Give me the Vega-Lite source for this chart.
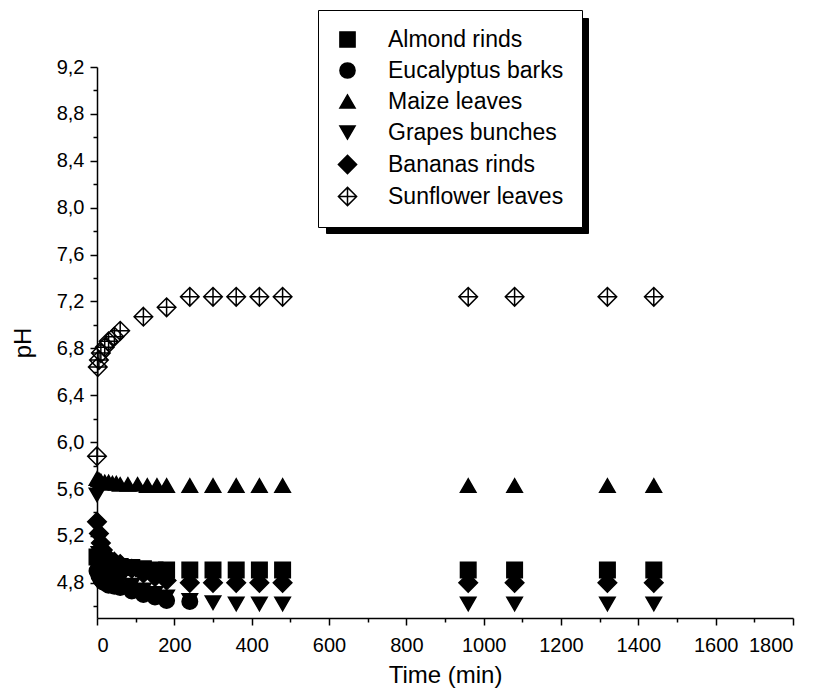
{
  "$schema": "https://vega.github.io/schema/vega-lite/v6.json",
  "width": 696,
  "height": 551,
  "autosize": {"type": "none"},
  "padding": {"left": 97, "top": 67, "right": 26, "bottom": 82},
  "background": "white",
  "config": {
    "locale": {"number": {"decimal": ",", "thousands": ".", "grouping": [3], "currency": ["", "€"]}},
    "font": "Liberation Sans",
    "view": {"stroke": null},
    "axis": {
      "grid": false,
      "domainColor": "black",
      "domainWidth": 1.5,
      "tickColor": "black",
      "tickWidth": 1.5,
      "labelColor": "black",
      "titleColor": "black",
      "labelFont": "Liberation Sans",
      "titleFont": "Liberation Sans",
      "labelFontSize": 20,
      "titleFontSize": 24,
      "titleFontWeight": "normal"
    }
  },
  "datasets": {
    "obs": [
      {"series": "Almond rinds", "t": 0, "pH": 5.02},
      {"series": "Almond rinds", "t": 5, "pH": 5.0},
      {"series": "Almond rinds", "t": 10, "pH": 4.98},
      {"series": "Almond rinds", "t": 15, "pH": 4.97},
      {"series": "Almond rinds", "t": 20, "pH": 4.96},
      {"series": "Almond rinds", "t": 30, "pH": 4.95},
      {"series": "Almond rinds", "t": 45, "pH": 4.95},
      {"series": "Almond rinds", "t": 60, "pH": 4.94},
      {"series": "Almond rinds", "t": 90, "pH": 4.93},
      {"series": "Almond rinds", "t": 120, "pH": 4.92},
      {"series": "Almond rinds", "t": 150, "pH": 4.91},
      {"series": "Almond rinds", "t": 180, "pH": 4.91},
      {"series": "Almond rinds", "t": 240, "pH": 4.91},
      {"series": "Almond rinds", "t": 300, "pH": 4.91},
      {"series": "Almond rinds", "t": 360, "pH": 4.91},
      {"series": "Almond rinds", "t": 420, "pH": 4.91},
      {"series": "Almond rinds", "t": 480, "pH": 4.91},
      {"series": "Almond rinds", "t": 960, "pH": 4.91},
      {"series": "Almond rinds", "t": 1080, "pH": 4.91},
      {"series": "Almond rinds", "t": 1320, "pH": 4.91},
      {"series": "Almond rinds", "t": 1440, "pH": 4.91},
      {"series": "Eucalyptus barks", "t": 0, "pH": 4.9},
      {"series": "Eucalyptus barks", "t": 5, "pH": 4.86},
      {"series": "Eucalyptus barks", "t": 10, "pH": 4.83},
      {"series": "Eucalyptus barks", "t": 15, "pH": 4.81},
      {"series": "Eucalyptus barks", "t": 20, "pH": 4.8},
      {"series": "Eucalyptus barks", "t": 30, "pH": 4.78},
      {"series": "Eucalyptus barks", "t": 45, "pH": 4.77},
      {"series": "Eucalyptus barks", "t": 60, "pH": 4.76},
      {"series": "Eucalyptus barks", "t": 90, "pH": 4.73},
      {"series": "Eucalyptus barks", "t": 120, "pH": 4.7},
      {"series": "Eucalyptus barks", "t": 150, "pH": 4.68},
      {"series": "Eucalyptus barks", "t": 180, "pH": 4.65},
      {"series": "Eucalyptus barks", "t": 240, "pH": 4.64},
      {"series": "Maize leaves", "t": 0, "pH": 5.69},
      {"series": "Maize leaves", "t": 5, "pH": 5.68},
      {"series": "Maize leaves", "t": 10, "pH": 5.67},
      {"series": "Maize leaves", "t": 20, "pH": 5.66},
      {"series": "Maize leaves", "t": 30, "pH": 5.66},
      {"series": "Maize leaves", "t": 40, "pH": 5.65},
      {"series": "Maize leaves", "t": 50, "pH": 5.65},
      {"series": "Maize leaves", "t": 60, "pH": 5.64},
      {"series": "Maize leaves", "t": 80, "pH": 5.64},
      {"series": "Maize leaves", "t": 105, "pH": 5.64},
      {"series": "Maize leaves", "t": 130, "pH": 5.63},
      {"series": "Maize leaves", "t": 155, "pH": 5.63},
      {"series": "Maize leaves", "t": 180, "pH": 5.63},
      {"series": "Maize leaves", "t": 240, "pH": 5.63},
      {"series": "Maize leaves", "t": 300, "pH": 5.63},
      {"series": "Maize leaves", "t": 360, "pH": 5.63},
      {"series": "Maize leaves", "t": 420, "pH": 5.63},
      {"series": "Maize leaves", "t": 480, "pH": 5.63},
      {"series": "Maize leaves", "t": 960, "pH": 5.63},
      {"series": "Maize leaves", "t": 1080, "pH": 5.63},
      {"series": "Maize leaves", "t": 1320, "pH": 5.63},
      {"series": "Maize leaves", "t": 1440, "pH": 5.63},
      {"series": "Grapes bunches", "t": 0, "pH": 5.55},
      {"series": "Grapes bunches", "t": 5, "pH": 5.05},
      {"series": "Grapes bunches", "t": 10, "pH": 4.95},
      {"series": "Grapes bunches", "t": 15, "pH": 4.9},
      {"series": "Grapes bunches", "t": 20, "pH": 4.88},
      {"series": "Grapes bunches", "t": 30, "pH": 4.86},
      {"series": "Grapes bunches", "t": 45, "pH": 4.84},
      {"series": "Grapes bunches", "t": 60, "pH": 4.82},
      {"series": "Grapes bunches", "t": 90, "pH": 4.78},
      {"series": "Grapes bunches", "t": 120, "pH": 4.74},
      {"series": "Grapes bunches", "t": 150, "pH": 4.71},
      {"series": "Grapes bunches", "t": 180, "pH": 4.68},
      {"series": "Grapes bunches", "t": 240, "pH": 4.65},
      {"series": "Grapes bunches", "t": 300, "pH": 4.63},
      {"series": "Grapes bunches", "t": 360, "pH": 4.62},
      {"series": "Grapes bunches", "t": 420, "pH": 4.62},
      {"series": "Grapes bunches", "t": 480, "pH": 4.62},
      {"series": "Grapes bunches", "t": 960, "pH": 4.62},
      {"series": "Grapes bunches", "t": 1080, "pH": 4.62},
      {"series": "Grapes bunches", "t": 1320, "pH": 4.62},
      {"series": "Grapes bunches", "t": 1440, "pH": 4.62},
      {"series": "Bananas rinds", "t": 0, "pH": 5.32},
      {"series": "Bananas rinds", "t": 5, "pH": 5.22},
      {"series": "Bananas rinds", "t": 10, "pH": 5.14},
      {"series": "Bananas rinds", "t": 15, "pH": 5.08},
      {"series": "Bananas rinds", "t": 20, "pH": 5.04},
      {"series": "Bananas rinds", "t": 30, "pH": 5.0},
      {"series": "Bananas rinds", "t": 45, "pH": 4.98},
      {"series": "Bananas rinds", "t": 60, "pH": 4.96},
      {"series": "Bananas rinds", "t": 90, "pH": 4.92},
      {"series": "Bananas rinds", "t": 120, "pH": 4.88},
      {"series": "Bananas rinds", "t": 150, "pH": 4.85},
      {"series": "Bananas rinds", "t": 180, "pH": 4.82},
      {"series": "Bananas rinds", "t": 240, "pH": 4.8},
      {"series": "Bananas rinds", "t": 300, "pH": 4.8},
      {"series": "Bananas rinds", "t": 360, "pH": 4.8},
      {"series": "Bananas rinds", "t": 420, "pH": 4.8},
      {"series": "Bananas rinds", "t": 480, "pH": 4.8},
      {"series": "Bananas rinds", "t": 960, "pH": 4.8},
      {"series": "Bananas rinds", "t": 1080, "pH": 4.8},
      {"series": "Bananas rinds", "t": 1320, "pH": 4.8},
      {"series": "Bananas rinds", "t": 1440, "pH": 4.8},
      {"series": "Sunflower leaves", "t": 0, "pH": 5.88},
      {"series": "Sunflower leaves", "t": 2, "pH": 6.64},
      {"series": "Sunflower leaves", "t": 5, "pH": 6.7},
      {"series": "Sunflower leaves", "t": 10, "pH": 6.76},
      {"series": "Sunflower leaves", "t": 20, "pH": 6.81},
      {"series": "Sunflower leaves", "t": 30, "pH": 6.86},
      {"series": "Sunflower leaves", "t": 45, "pH": 6.9},
      {"series": "Sunflower leaves", "t": 60, "pH": 6.95},
      {"series": "Sunflower leaves", "t": 120, "pH": 7.07},
      {"series": "Sunflower leaves", "t": 180, "pH": 7.15},
      {"series": "Sunflower leaves", "t": 240, "pH": 7.24},
      {"series": "Sunflower leaves", "t": 300, "pH": 7.24},
      {"series": "Sunflower leaves", "t": 360, "pH": 7.24},
      {"series": "Sunflower leaves", "t": 420, "pH": 7.24},
      {"series": "Sunflower leaves", "t": 480, "pH": 7.24},
      {"series": "Sunflower leaves", "t": 960, "pH": 7.24},
      {"series": "Sunflower leaves", "t": 1080, "pH": 7.24},
      {"series": "Sunflower leaves", "t": 1320, "pH": 7.24},
      {"series": "Sunflower leaves", "t": 1440, "pH": 7.24}
    ],
    "shadow": [
      {"label": "Almond rinds"},
      {"label": "Eucalyptus barks"},
      {"label": "Maize leaves"},
      {"label": "Grapes bunches"},
      {"label": "Bananas rinds"},
      {"label": "Sunflower leaves"}
    ]
  },
  "layer": [
    {
      "data": {"name": "obs"},
      "mark": {"type": "point", "opacity": 0},
      "encoding": {
        "x": {"field": "t", "type": "quantitative",
          "axis": {"orient": "bottom", "values": [100, 300, 500, 700, 900, 1100, 1300, 1500, 1700], "labels": false, "domain": false, "tickSize": 4, "title": null}},
        "y": {"field": "pH", "type": "quantitative",
          "axis": {"orient": "left", "values": [4.6, 5.0, 5.4, 5.8, 6.2, 6.6, 7.0, 7.4, 7.8, 8.2, 8.6, 9.0], "labels": false, "domain": false, "tickSize": 4, "title": null}}
      }
    },
    {
      "data": {"name": "obs"},
      "mark": {"type": "point", "strokeWidth": 1.5, "opacity": 1, "size": 240},
      "encoding": {
        "x": {"field": "t", "type": "quantitative",
          "scale": {"domain": [0, 1800], "nice": false, "zero": false},
          "axis": {"orient": "bottom", "values": [0, 200, 400, 600, 800, 1000, 1200, 1400, 1600, 1800], "format": "d", "tickSize": 7, "labelPadding": 10, "title": "Time (min)", "titlePadding": 8}},
        "y": {"field": "pH", "type": "quantitative",
          "scale": {"domain": [4.5, 9.2], "nice": false, "zero": false},
          "axis": {"orient": "left", "values": [4.8, 5.2, 5.6, 6.0, 6.4, 6.8, 7.2, 7.6, 8.0, 8.4, 8.8, 9.2], "format": ".1f", "tickSize": 7, "labelPadding": 6, "title": "pH", "titlePadding": 21}},
        "shape": {"field": "series", "type": "nominal",
          "scale": {"domain": ["Almond rinds", "Eucalyptus barks", "Maize leaves", "Grapes bunches", "Bananas rinds", "Sunflower leaves"],
            "range": ["square", "circle", "triangle-up", "triangle-down", "M0,-1.2L1.2,0L0,1.2L-1.2,0Z", "M0,-1.2L1.2,0L0,1.2L-1.2,0Z M0,-1.2L0,1.2 M-1.2,0L1.2,0"]},
          "legend": {"orient": "none", "legendX": 221, "legendY": -57, "title": null, "fillColor": "white", "strokeColor": "black", "padding": 18, "labelFontSize": 23, "labelFont": "Liberation Sans", "labelColor": "black", "symbolSize": 230, "rowPadding": 7, "labelOffset": 29, "symbolStrokeColor": "black", "symbolStrokeWidth": 1.5, "labelLimit": 300, "zindex": 2}},
        "fill": {"field": "series", "type": "nominal",
          "scale": {"domain": ["Almond rinds", "Eucalyptus barks", "Maize leaves", "Grapes bunches", "Bananas rinds", "Sunflower leaves"],
            "range": ["black", "black", "black", "black", "black", "transparent"]},
          "legend": {"orient": "none", "legendX": 221, "legendY": -57, "title": null, "fillColor": "white", "strokeColor": "black", "padding": 18, "labelFontSize": 23, "labelFont": "Liberation Sans", "labelColor": "black", "symbolSize": 230, "rowPadding": 7, "labelOffset": 29, "symbolStrokeColor": "black", "symbolStrokeWidth": 1.5, "labelLimit": 300, "zindex": 2}},
        "stroke": {"field": "series", "type": "nominal",
          "scale": {"domain": ["Almond rinds", "Eucalyptus barks", "Maize leaves", "Grapes bunches", "Bananas rinds", "Sunflower leaves"],
            "range": ["black", "black", "black", "black", "black", "black"]},
          "legend": {"orient": "none", "legendX": 221, "legendY": -57, "title": null, "fillColor": "white", "strokeColor": "black", "padding": 18, "labelFontSize": 23, "labelFont": "Liberation Sans", "labelColor": "black", "symbolSize": 230, "rowPadding": 7, "labelOffset": 29, "symbolStrokeColor": "black", "symbolStrokeWidth": 1.5, "labelLimit": 300, "zindex": 2}}
      }
    },
    {
      "data": {"name": "shadow"},
      "mark": {"type": "point", "opacity": 0},
      "encoding": {
        "color": {"field": "label", "type": "nominal",
          "scale": {"range": ["black", "black", "black", "black", "black", "black"]},
          "legend": {"orient": "none", "legendX": 229, "legendY": -49, "title": null, "fillColor": "black", "strokeColor": "black", "padding": 18, "labelFontSize": 23, "labelFont": "Liberation Sans", "labelColor": "black", "labelExpr": "''", "symbolSize": 230, "rowPadding": 7, "labelOffset": 203, "symbolFillColor": "black", "symbolStrokeWidth": 1.5, "labelLimit": 300, "zindex": 0}}
      }
    }
  ],
  "resolve": {"axis": {"x": "independent", "y": "independent"}}
}
